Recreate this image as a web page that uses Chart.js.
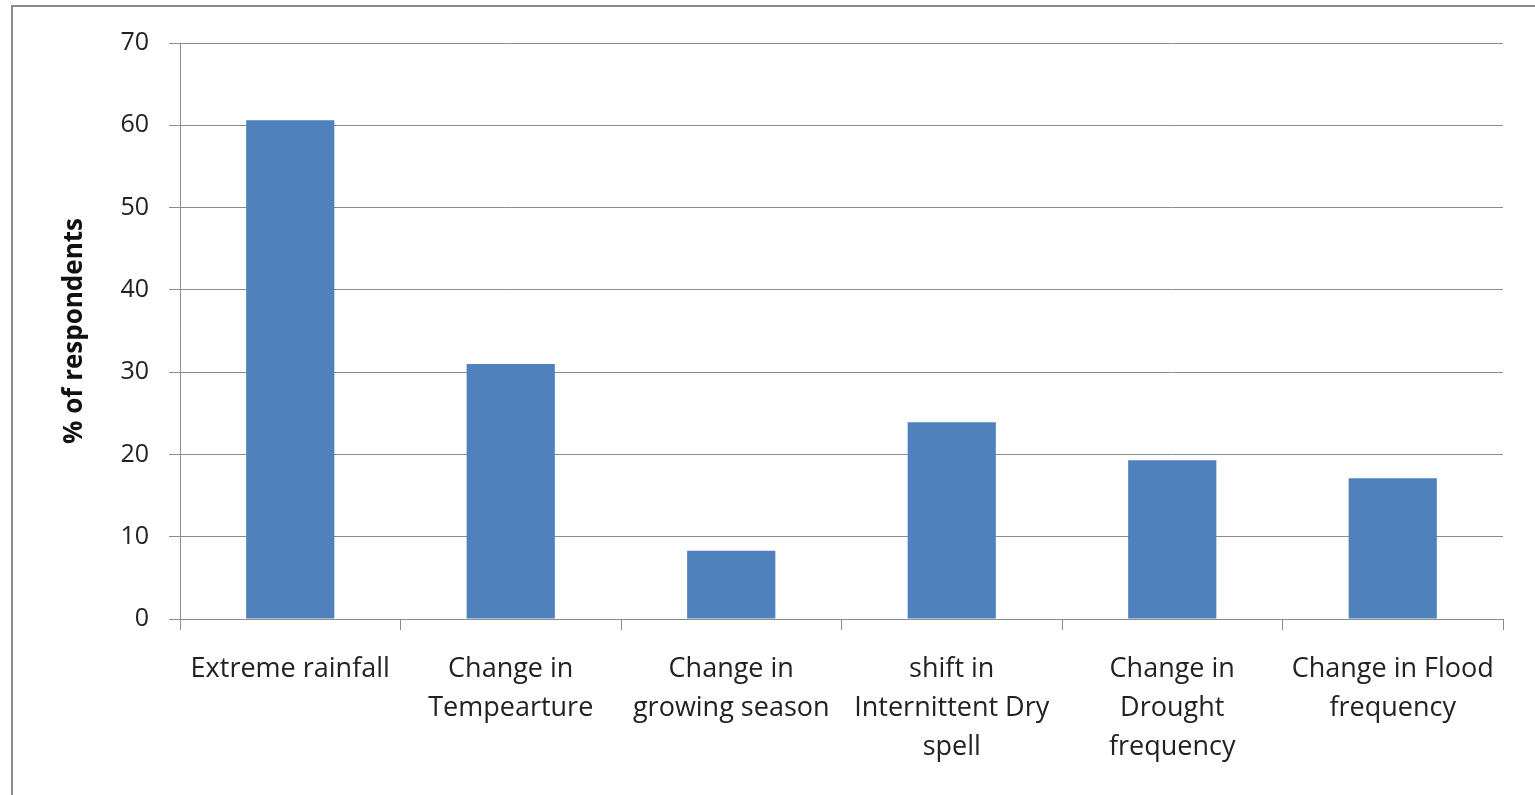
<!DOCTYPE html>
<html>
<head>
<meta charset="utf-8">
<script src="https://cdn.jsdelivr.net/npm/chart.js@4.4.0/dist/chart.umd.min.js"></script>
<style>
  html, body { margin: 0; padding: 0; background: #fff; }
  #wrap { position: relative; width: 1535px; height: 795px; overflow: hidden; }
  #frame {
    position: absolute; left: 11px; top: 5px; width: 1540px; height: 800px;
    border: 2px solid #8a8a8a; box-sizing: border-box;
  }
  canvas { position: absolute; left: 0; top: 0; }
</style>
</head>
<body>
<div id="wrap">
  <div id="frame"></div>
  <canvas id="impactChart" width="1535" height="795"></canvas>
</div>
<script>
const categories = [
  "Extreme rainfall",
  ["Change in", "Tempearture"],
  ["Change in", "growing season"],
  ["shift in", "Internittent Dry", "spell"],
  ["Change in", "Drought", "frequency"],
  ["Change in Flood", "frequency"],
];
const respondents = [60.6, 31.0, 8.3, 23.9, 19.3, 17.1];
const yTicks = [0, 10, 20, 30, 40, 50, 60, 70];

const font = "'Open Sans', 'DejaVu Sans', sans-serif";
const gridColor = "#8c8c8c";

const ctx = document.getElementById("impactChart").getContext("2d");
const impactChart = new Chart(ctx, {
  type: "bar",
  data: {
    labels: categories,
    datasets: [
      {
        label: "% of respondents",
        data: respondents,
        backgroundColor: "#4f81bd",
        borderWidth: 0,
        barPercentage: 0.4,
        categoryPercentage: 1,
      },
    ],
  },
  options: {
    responsive: false,
    animation: false,
    layout: { padding: { left: 59, right: 32, top: 43, bottom: 0 } },
    plugins: {
      legend: { display: false },
      tooltip: { enabled: false },
    },
    scales: {
      x: {
        offset: true,
        grid: {
          offset: true,
          drawOnChartArea: false,
          tickLength: 11,
          color: gridColor,
        },
        border: { color: gridColor },
        ticks: {
          color: "#222",
          font: { family: font, size: 27, lineHeight: 1.44 },
          padding: 20,
          maxRotation: 0,
          autoSkip: false,
        },
        afterFit: (scale) => { scale.height = 176; },
      },
      y: {
        min: 0,
        max: 70,
        afterBuildTicks: (scale) => {
          scale.ticks = yTicks.map((v) => ({ value: v }));
        },
        grid: { color: gridColor, tickLength: 11 },
        border: { color: gridColor },
        ticks: {
          color: "#222",
          font: { family: font, size: 25 },
          padding: 20,
        },
        title: {
          display: true,
          text: "% of respondents",
          color: "#111",
          font: { family: font, size: 26, weight: "bold" },
          padding: { top: 0, bottom: 10 },
        },
        afterFit: (scale) => { scale.width = 121; },
      },
    },
  },
});
</script>
</body>
</html>
